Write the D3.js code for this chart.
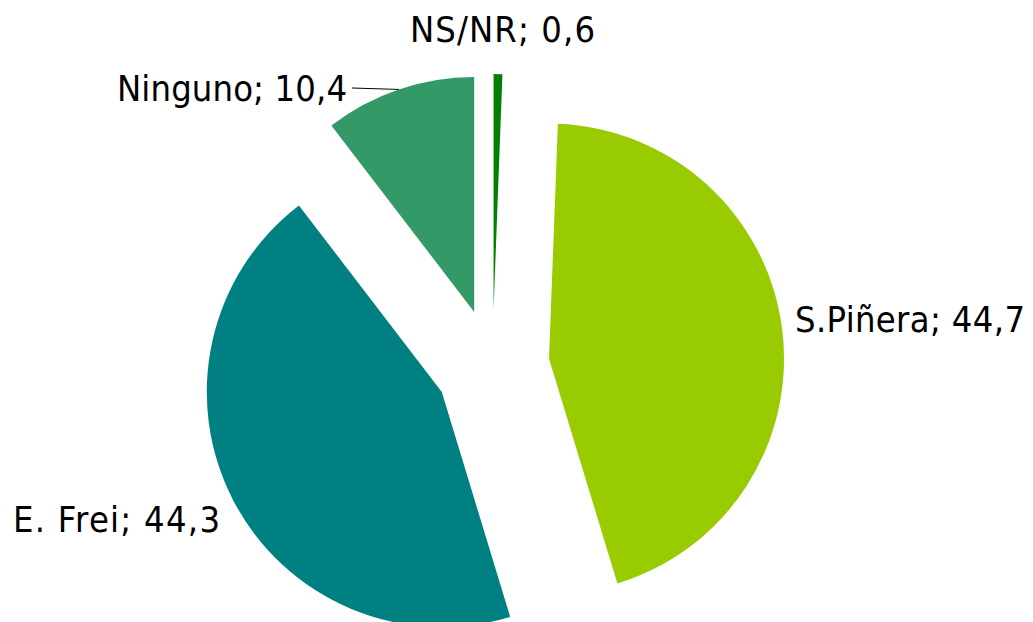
<!DOCTYPE html>
<html>
<head>
<meta charset="utf-8">
<script src="https://cdn.jsdelivr.net/npm/d3@7"></script>
<style>
  html, body { margin: 0; padding: 0; background: #fff; }
  svg { display: block; }
  .lbl { font-family: "DejaVu Sans", sans-serif; font-stretch: condensed; font-size: 36px; fill: #000; }
</style>
</head>
<body>
<svg id="chart" width="1033" height="622"></svg>
<script>
// Vote intention shares (%)
const categories = ["S.Piñera", "E. Frei", "Ninguno", "NS/NR"];
const values = [44.7, 44.3, 10.4, 0.6];
const valueLabels = ["44,7", "44,3", "10,4", "0,6"];
const colors = ["#99CC00", "#008080", "#339966", "#008000"];

const width = 1033, height = 622;
const cx = 492.5, cy = 366, radius = 235, explode = 57;

const svg = d3.select("#chart");

// First slice starts just after 12 o'clock, after the small NS/NR wedge
const start = (values[3] / 100) * 2 * Math.PI;
const pie = d3.pie().sort(null).startAngle(start).endAngle(start + 2 * Math.PI);
const arcs = pie(values);
const arc = d3.arc().innerRadius(0).outerRadius(radius);

const g = svg.append("g").attr("transform", `translate(${cx},${cy})`);

const offset = d => {
  const mid = (d.startAngle + d.endAngle) / 2;
  return [Math.sin(mid) * explode, -Math.cos(mid) * explode];
};

g.selectAll("path.slice")
  .data(arcs)
  .join("path")
  .attr("class", "slice")
  .attr("d", arc)
  .attr("fill", (d, i) => colors[i])
  .attr("transform", d => { const o = offset(d); return `translate(${o[0]},${o[1]})`; });

// Label boxes: left edge, baseline, run length
const labelPos = [
  [795, 332, 230],   // S.Piñera
  [13, 532, 207],    // E. Frei
  [117, 101, 230],   // Ninguno
  [410, 42, 185]     // NS/NR
];

svg.selectAll("text.lbl")
  .data(arcs)
  .join("text")
  .attr("class", "lbl")
  .attr("x", (d, i) => labelPos[i][0])
  .attr("y", (d, i) => labelPos[i][1])
  .attr("textLength", (d, i) => labelPos[i][2])
  .attr("lengthAdjust", "spacing")
  .text((d, i) => `${categories[i]}; ${valueLabels[i]}`);

// Leader line from the Ninguno label to the outer edge of its slice
{
  const d = arcs[2];
  const o = offset(d);
  const a = (d.startAngle + d.endAngle) / 2;
  const ex = cx + o[0] + Math.sin(a) * radius;
  const ey = cy + o[1] - Math.cos(a) * radius;
  svg.append("line")
    .attr("x1", 352).attr("y1", 88)
    .attr("x2", ex).attr("y2", ey)
    .attr("stroke", "#000").attr("stroke-width", 1);
}
</script>
</body>
</html>
